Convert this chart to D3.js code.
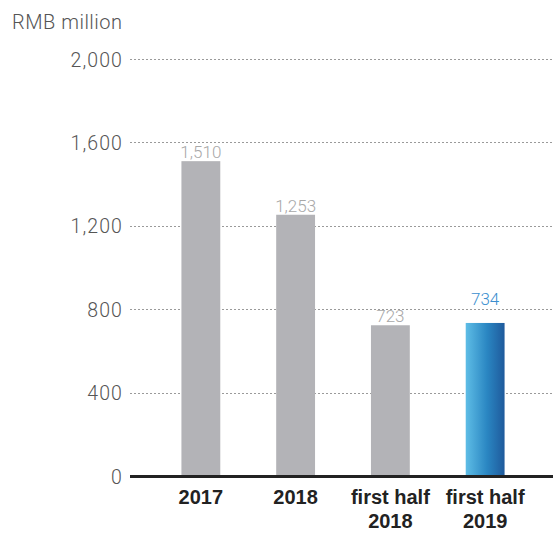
<!DOCTYPE html>
<html>
<head>
<meta charset="utf-8">
<script src="https://cdn.jsdelivr.net/npm/d3@7"></script>
<style>
  html, body { margin: 0; padding: 0; background: #fff; }
  svg { display: block; }
</style>
</head>
<body>
<svg id="chart" width="553" height="534"></svg>
<script>
// Periods and values (RMB million)
const categories = ["2017", "2018", "first half 2018", "first half 2019"];
const categoryLines = [["2017"], ["2018"], ["first half", "2018"], ["first half", "2019"]];
const values = [1510, 1253, 723, 734];
const valueLabels = ["1,510", "1,253", "723", "734"];
const yTicks = [0, 400, 800, 1200, 1600, 2000];
const unitLabel = "RMB million";

const svg = d3.select("#chart");
const W = 553;
const plotLeft = 130;
const plotTop = 59;
const plotBottom = 476;

const x = d3.scaleBand()
  .domain(categories)
  .range([153, 533])
  .paddingInner(0.59)
  .paddingOuter(0.3);

const y = d3.scaleLinear()
  .domain([0, 2000])
  .range([plotBottom, plotTop]);

const defs = svg.append("defs");
const grad = defs.append("linearGradient")
  .attr("id", "blueGrad")
  .attr("x1", "0%").attr("x2", "100%").attr("y1", "0%").attr("y2", "0%");
grad.append("stop").attr("offset", "0%").attr("stop-color", "#5ebde6");
grad.append("stop").attr("offset", "55%").attr("stop-color", "#2a86c2");
grad.append("stop").attr("offset", "100%").attr("stop-color", "#1f5a9c");

const lightFont = "Roboto, 'Liberation Sans', Arial, sans-serif";
const boldFont = "'Liberation Sans', Arial, sans-serif";

// Grid lines
svg.append("g")
  .selectAll("line")
  .data(yTicks.filter(d => d > 0))
  .join("line")
  .attr("x1", plotLeft)
  .attr("x2", W)
  .attr("y1", d => Math.round(y(d)) + 0.5)
  .attr("y2", d => Math.round(y(d)) + 0.5)
  .attr("stroke", "#9a9a9a")
  .attr("stroke-width", 1)
  .attr("stroke-dasharray", "2,2");

// Y axis labels
const yAxis = d3.axisLeft(y).tickValues(yTicks).tickSize(0).tickPadding(0)
  .tickFormat(d3.format(","));
const yg = svg.append("g")
  .attr("transform", `translate(${123},0)`)
  .call(yAxis);
yg.select(".domain").remove();
yg.selectAll("text")
  .attr("font-family", lightFont)
  .attr("font-weight", 300)
  .attr("font-size", 19.5)
  .attr("letter-spacing", 1.1)
  .attr("fill", "#555")
  .attr("dy", "0.36em");

// Unit label
svg.append("text")
  .attr("x", 12)
  .attr("y", 29)
  .attr("font-family", lightFont)
  .attr("font-weight", 300)
  .attr("font-size", 20)
  .attr("letter-spacing", 0.5)
  .attr("fill", "#555")
  .text(unitLabel);

// Bars
svg.append("g")
  .selectAll("rect")
  .data(values)
  .join("rect")
  .attr("x", (d, i) => x(categories[i]))
  .attr("width", x.bandwidth())
  .attr("y", d => y(d))
  .attr("height", d => plotBottom - y(d))
  .attr("fill", (d, i) => i === 3 ? "url(#blueGrad)" : "#b3b3b7");

// Value labels
svg.append("g")
  .selectAll("text")
  .data(values)
  .join("text")
  .attr("x", (d, i) => x(categories[i]) + x.bandwidth() / 2)
  .attr("y", (d, i) => y(d) - (i === 3 ? 18 : 3))
  .attr("text-anchor", "middle")
  .attr("font-family", lightFont)
  .attr("font-weight", 300)
  .attr("font-size", 17)
  .attr("fill", (d, i) => i === 3 ? "#3b8fcf" : "#a8a8a8")
  .text((d, i) => valueLabels[i]);

// Baseline
svg.append("line")
  .attr("x1", plotLeft)
  .attr("x2", W)
  .attr("y1", plotBottom + 0.5)
  .attr("y2", plotBottom + 0.5)
  .attr("stroke", "#222")
  .attr("stroke-width", 3);

// Category labels
const cat = svg.append("g")
  .selectAll("text")
  .data(categories)
  .join("text")
  .attr("x", d => x(d) + x.bandwidth() / 2)
  .attr("y", 504)
  .attr("text-anchor", "middle")
  .attr("font-family", boldFont)
  .attr("font-size", 20)
  .attr("font-weight", "bold")
  .attr("fill", "#222");
cat.selectAll("tspan")
  .data((d, i) => categoryLines[i])
  .join("tspan")
  .attr("x", function() { return d3.select(this.parentNode).attr("x"); })
  .attr("dy", (d, j) => j === 0 ? 0 : 24)
  .text(d => d);
</script>
</body>
</html>
